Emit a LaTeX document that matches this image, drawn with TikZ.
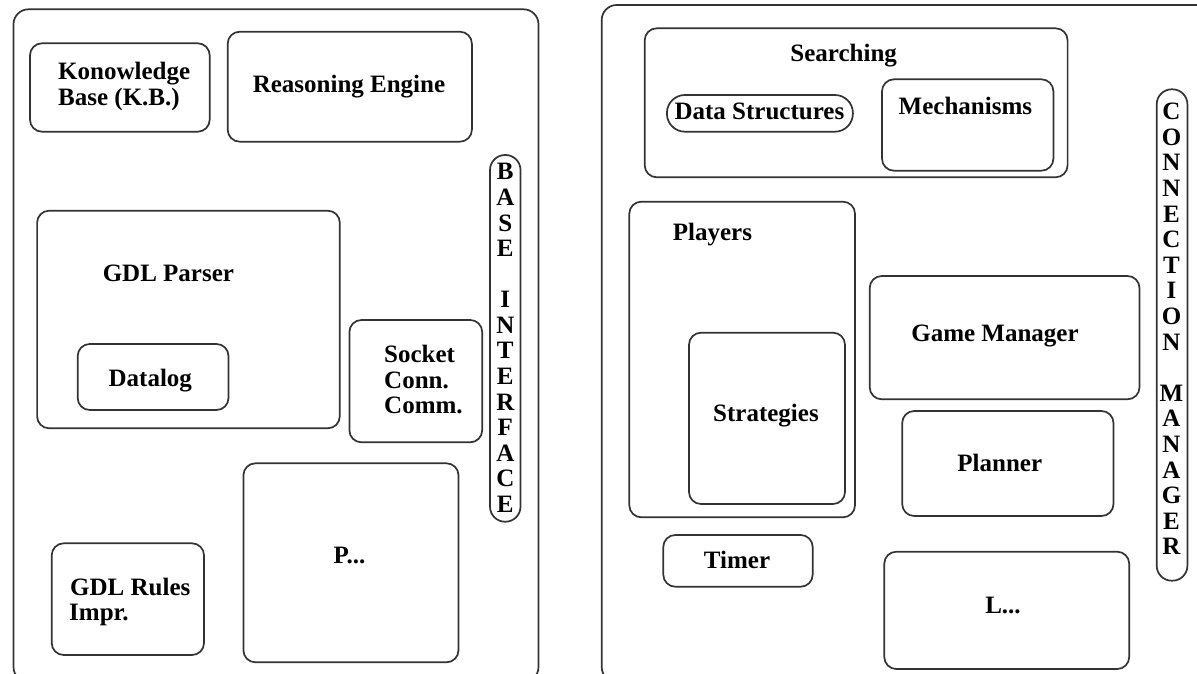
\documentclass[tikz,border=0pt]{standalone}
\usepackage{fontspec}
\setmainfont{Liberation Serif}
\usetikzlibrary{fit}
\begin{document}
\begin{tikzpicture}[x=1pt,y=-1pt,
  box/.style={draw=black!80, line width=1.7pt, rounded corners=12pt, inner sep=0pt, rectangle},
  panel/.style={box, rounded corners=15pt},
  pill/.style={box, rounded corners=#1},
  lbl/.style={inner sep=0pt, font={\fontsize{25}{25.6}\selectfont\bfseries}, text=black},
  vlbl/.style={lbl, anchor=base}]
\fill[white] (0,0) rectangle (1197,674);
\clip (0,0) rectangle (1197,674);
\useasboundingbox (0,0) rectangle (1197,674);

% ---------- left panel ----------
\node[panel, fit={(13.5,9.3) (538.5,682)}] (leftpanel) {};
\node[box, fit={(30,43.3) (209.7,131.7)}] (kb) {};
\node[lbl, anchor=base west] (kbA) at (58,80) {Konowledge};
\node[lbl, anchor=base west] (kbB) at (58,106) {Base (K.B.)};
\node[box, fit={(227.7,31.7) (471.9,141.7)}] (re) {};
\node[lbl, anchor=base] (reT) at (349,92.7) {Reasoning Engine};
\node[pill=15pt, fit={(490,155) (520.5,521.7)}] (bi) {};
\node[vlbl] (biT) at (505.3,179.8) {\begin{tabular}[t]{@{}c@{}}B\\A\\S\\E\\ \\I\\N\\T\\E\\R\\F\\A\\C\\E\end{tabular}};
\node[box, fit={(37.1,210.7) (339.8,428.3)}] (gdlp) {};
\node[lbl, anchor=base] (gdlpT) at (168.4,281.7) {GDL Parser};
\node[box, fit={(77.7,344) (228.5,410)}] (dl) {};
\node[lbl, anchor=base] (dlT) at (150.3,386.7) {Datalog};
\node[box, fit={(349.4,320) (482.2,442.3)}] (sock) {};
\node[lbl, anchor=base west] (sockA) at (384,362.3) {Socket};
\node[lbl, anchor=base west] (sockB) at (384,388.3) {Conn.};
\node[lbl, anchor=base west] (sockC) at (384,413.3) {Comm.};
\node[box, fit={(243.4,463.3) (458.5,662.3)}] (pbox) {};
\node[lbl, anchor=base] (pT) at (349.5,563.3) {P...};
\node[box, fit={(51.7,543.3) (204,655)}] (rules) {};
\node[lbl, anchor=base west] (rulesA) at (70,595) {GDL Rules};
\node[lbl, anchor=base west] (rulesB) at (69,620) {Impr.};

% ---------- right panel ----------
\node[panel, fit={(601.7,5) (1215,682)}] (rightpanel) {};
\node[box, fit={(644.7,28.3) (1067.6,177.3)}] (search) {};
\node[lbl, anchor=base] (searchT) at (843.7,61.7) {Searching};
\node[pill=18pt, fit={(666.9,95) (852.9,131.7)}] (ds) {};
\node[lbl, anchor=base] (dsT) at (759.4,119.3) {Data Structures};
\node[box, fit={(882,79.3) (1053.4,170.7)}] (mech) {};
\node[lbl, anchor=base] (mechT) at (965.4,115) {Mechanisms};
\node[pill=15pt, fit={(1156.7,89.3) (1187.4,580.7)}] (cm) {};
\node[vlbl] (cmT) at (1171.5,119.8) {\begin{tabular}[t]{@{}c@{}}C\\O\\N\\N\\E\\C\\T\\I\\O\\N\\ \\M\\A\\N\\A\\G\\E\\R\end{tabular}};
\node[box, fit={(629.3,201.7) (855,517.3)}] (players) {};
\node[lbl, anchor=base] (playersT) at (712.4,240) {Players};
\node[box, fit={(689,332.7) (845,504)}] (strat) {};
\node[lbl, anchor=base] (stratT) at (766,421.7) {Strategies};
\node[box, fit={(869.7,276) (1139.5,399.3)}] (gm) {};
\node[lbl, anchor=base] (gmT) at (995,341) {Game Manager};
\node[box, fit={(902.2,411) (1113.5,516)}] (plan) {};
\node[lbl, anchor=base] (planT) at (999.8,471.7) {Planner};
\node[box, fit={(663.3,535) (812.7,586.7)}] (timer) {};
\node[lbl, anchor=base] (timerT) at (737,568.3) {Timer};
\node[box, fit={(884.3,551.7) (1129.2,669)}] (lbox) {};
\node[lbl, anchor=base] (lT) at (1003,613.3) {L...};
\end{tikzpicture}
\end{document}
